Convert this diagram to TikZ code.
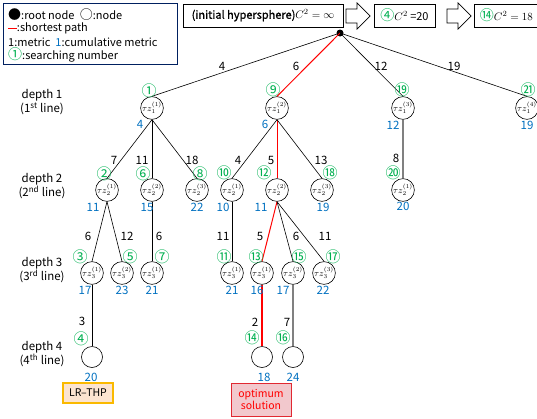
\documentclass[tikz,border=0pt]{standalone}
\usepackage{fontspec}
\setmainfont{Noto Sans CJK JP}
\newfontfamily\cjk{Noto Sans CJK JP}
\newfontfamily\boldish[FakeBold=1.2]{Noto Sans CJK JP}
\definecolor{cumblue}{RGB}{0,112,192}
\definecolor{numgreen}{RGB}{0,176,80}
\definecolor{legframe}{RGB}{0,32,96}
\definecolor{optfill}{RGB}{242,200,205}
\definecolor{optdraw}{RGB}{225,40,50}
\definecolor{lrfill}{RGB}{252,228,208}
\definecolor{lrdraw}{RGB}{250,185,0}
\begin{document}
\begin{tikzpicture}[x=1pt,y=-1pt,
 tn/.style={draw,circle,minimum size=20pt,inner sep=0pt,font=\fontsize{8.8}{8.8}\selectfont,line width=0.6pt},
 leaf/.style={draw,circle,minimum size=21pt,inner sep=0pt,line width=0.6pt},
 cum/.style={text=cumblue,font=\fontsize{11.5}{11.5}\selectfont,inner sep=0pt},
 num/.style={text=numgreen,font=\cjk\fontsize{15}{15}\selectfont,inner sep=0pt},
 wt/.style={font=\fontsize{11.5}{11.5}\selectfont,inner sep=0pt},
 edge/.style={line width=0.6pt},
 best/.style={red,line width=1pt},
 bestthick/.style={red,line width=1.8pt},
 grayedge/.style={gray,line width=1.2pt},
 depthlbl/.style={align=center,font=\fontsize{11.5}{14}\selectfont,inner sep=0pt},
 topbox/.style={draw,line width=0.7pt,minimum height=23pt,inner sep=2pt,font=\fontsize{11}{11}\selectfont},
 legtext/.style={anchor=west,inner sep=0pt,font=\fontsize{11}{11}\selectfont},
 blockarrow/.style={draw,line width=0.7pt,fill=white}
]
\useasboundingbox (0,0) rectangle (537,418);

% legend
\node[draw=legframe,line width=0.8pt,minimum width=174pt,minimum height=61pt,inner sep=0pt] (legend) at (90,33.5) {};
\node[legtext] (lg1) at (8,15) {{\fontsize{13}{13}\selectfont●}:root node\enspace{\fontsize{13}{13}\selectfont○}:node};
\node[legtext] (lg2) at (8,28) {\textcolor{red}{\rule[0.35ex]{0.8em}{1.3pt}}:shortest path};
\node[legtext] (lg3) at (8,42) {1:metric\ \ \textcolor{cumblue}{1}:cumulative metric};
\node[legtext] (lg4) at (8,55) {\textcolor{numgreen}{\fontsize{14}{14}\selectfont①}:searching number};

% top banner
\node[topbox,minimum width=160pt] (b1) at (263,15.5) {{\boldish(initial hypersphere)}$C^2=\infty$};
\draw[blockarrow] (346,9) -- (357,9) -- (357,3) -- (370,16) -- (357,29) -- (357,23) -- (346,23) -- cycle;
\node[topbox,minimum width=61pt] (b2) at (404.5,15.5) {\textcolor{numgreen}{\fontsize{14}{14}\selectfont④}$C^2$ =20};
\draw[blockarrow] (447,9) -- (458,9) -- (458,3) -- (471,16) -- (458,29) -- (458,23) -- (447,23) -- cycle;
\node[topbox,anchor=west,minimum width=70pt,align=left] (b3) at (474,15.5) {\textcolor{numgreen}{\fontsize{14}{14}\selectfont⑭}$C^2=18$\hspace{6pt}};

% root
\node[circle,fill,inner sep=0pt,minimum size=7pt] (r) at (340,33) {};

% depth labels
\node[depthlbl] (dl1) at (42,102) {depth 1\\(1\textsuperscript{st} line)};
\node[depthlbl] (dl2) at (42,186) {depth 2\\(2\textsuperscript{nd} line)};
\node[depthlbl] (dl3) at (42,270) {depth 3\\(3\textsuperscript{rd} line)};
\node[depthlbl] (dl4) at (42,354) {depth 4\\(4\textsuperscript{th} line)};

% depth 1
\node[tn] (n1) at (152,108) {$\tau z_1^{(1)}$};
\node[tn] (n9) at (277,108) {$\tau z_1^{(2)}$};
\node[tn] (n19) at (403,108) {$\tau z_1^{(3)}$};
\node[tn] (n21) at (527,108) {$\tau z_1^{(4)}$};
% depth 2
\node[tn] (n2) at (107,190) {$\tau z_2^{(1)}$};
\node[tn] (n6) at (152,190) {$\tau z_2^{(2)}$};
\node[tn] (n8) at (197,190) {$\tau z_2^{(3)}$};
\node[tn] (n10) at (232,190) {$\tau z_2^{(1)}$};
\node[tn] (n12) at (277,190) {$\tau z_2^{(2)}$};
\node[tn] (n18) at (322,190) {$\tau z_2^{(3)}$};
\node[tn] (n20) at (403,190) {$\tau z_2^{(1)}$};
% depth 3
\node[tn] (n3) at (92,273) {$\tau z_3^{(1)}$};
\node[tn] (n5) at (122,273) {$\tau z_3^{(2)}$};
\node[tn] (n7) at (152,273) {$\tau z_3^{(1)}$};
\node[tn] (n11) at (232,273) {$\tau z_3^{(1)}$};
\node[tn] (n13) at (262,273) {$\tau z_3^{(1)}$};
\node[tn] (n15) at (293,273) {$\tau z_3^{(2)}$};
\node[tn] (n17) at (324,273) {$\tau z_3^{(3)}$};
% depth 4
\node[leaf] (n4) at (92,357) {};
\node[leaf] (n14) at (262,357) {};
\node[leaf] (n16) at (293,357) {};

% edges
\draw[edge] (r.center) -- (n1.north);
\draw[best] (r.center) -- (n9.north);
\draw[edge] (r.center) -- (n19.north);
\draw[edge] (r.center) -- (n21.north);
\draw[edge] (n1.south) -- (n2.north);
\draw[edge] (n1.south) -- (n6.north);
\draw[edge] (n1.south) -- (n8.north);
\draw[edge] (n9.south) -- (n10.north);
\draw[best] (n9.south) -- (n12.north);
\draw[edge] (n9.south) -- (n18.north);
\draw[grayedge] (n19.south) -- (n20.north);
\draw[edge] (n2.south) -- (n3.north);
\draw[edge] (n2.south) -- (n5.north);
\draw[edge] (n6.south) -- (n7.north);
\draw[edge] (n10.south) -- (n11.north);
\draw[best] (n12.south) -- (n13.north);
\draw[edge] (n12.south) -- (n15.north);
\draw[edge] (n12.south) -- (n17.north);
\draw[edge] (n3.south) -- (n4.north);
\draw[bestthick] (n13.south) -- (n14.north);
\draw[grayedge] (n15.south) -- (n16.north);

% metric labels
\node[wt] (w1) at (222,66) {4};
\node[wt] (w9) at (296,66) {6};
\node[wt] (w19) at (381,66) {12};
\node[wt] (w21) at (454,66) {19};
\node[wt] (w2) at (114,160) {7};
\node[wt] (w6) at (142,160) {11};
\node[wt] (w8) at (192,160) {18};
\node[wt] (w10) at (238,160) {4};
\node[wt] (w12) at (271,160) {5};
\node[wt] (w18) at (321,160) {13};
\node[wt] (w20) at (396,158) {8};
\node[wt] (w3) at (88,236) {6};
\node[wt] (w5) at (127,236) {12};
\node[wt] (w7) at (159,236) {6};
\node[wt] (w11) at (223,236) {11};
\node[wt] (w13) at (260,236) {5};
\node[wt] (w15) at (296,236) {6};
\node[wt] (w17) at (325,236) {11};
\node[wt] (w4) at (82,321) {3};
\node[wt] (w14) at (255,322) {2};
\node[wt] (w16) at (287,322) {7};

% cumulative metric labels
\node[cum] (c1) at (140,124) {4};
\node[cum] (c9) at (265,124) {6};
\node[cum] (c19) at (393,125) {12};
\node[cum] (c21) at (527,125) {19};
\node[cum] (c2) at (93,207) {11};
\node[cum] (c6) at (147,207) {15};
\node[cum] (c8) at (197,207) {22};
\node[cum] (c10) at (223,207) {10};
\node[cum] (c12) at (261,207) {11};
\node[cum] (c18) at (323,207) {19};
\node[cum] (c20) at (403,206) {20};
\node[cum] (c3) at (85,290) {17};
\node[cum] (c5) at (122,290) {23};
\node[cum] (c7) at (152,290) {21};
\node[cum] (c11) at (232,290) {21};
\node[cum] (c13) at (257,290) {16};
\node[cum] (c15) at (283,290) {17};
\node[cum] (c17) at (323,290) {22};
\node[cum] (c4) at (91,377) {20};
\node[cum] (c14) at (264,377) {18};
\node[cum] (c16) at (293,377) {24};

% searching numbers
\node[num] (s1) at (149,91) {①};
\node[num] (s9) at (273,90) {⑨};
\node[num] (s19) at (402,90) {⑲};
\node[num] (s21) at (528,90) {㉑};
\node[num] (s2) at (104,174) {②};
\node[num] (s6) at (143,174) {⑥};
\node[num] (s8) at (200,174) {⑧};
\node[num] (s10) at (224,173) {⑩};
\node[num] (s12) at (264,173) {⑫};
\node[num] (s18) at (330,173) {⑱};
\node[num] (s20) at (393,173) {⑳};
\node[num] (s3) at (80,257) {③};
\node[num] (s5) at (130,257) {⑤};
\node[num] (s7) at (162,257) {⑦};
\node[num] (s11) at (224,257) {⑪};
\node[num] (s13) at (256,257) {⑬};
\node[num] (s15) at (299,257) {⑮};
\node[num] (s17) at (333,257) {⑰};
\node[num] (s4) at (81,339) {④};
\node[num] (s14) at (252,338) {⑭};
\node[num] (s16) at (283,338) {⑯};

% result boxes
\node[draw=lrdraw,fill=lrfill,line width=1.1pt,minimum width=50pt,minimum height=20pt,inner sep=0pt,font=\fontsize{10.5}{10.5}\selectfont] (lr) at (88,393) {LR--THP};
\node[draw=optdraw,fill=optfill,line width=0.8pt,minimum width=60pt,minimum height=33pt,inner sep=0pt,align=center,text=red,font=\fontsize{10.5}{12}\selectfont] (opt) at (261,399.5) {optimum\\solution};
\end{tikzpicture}
\end{document}
